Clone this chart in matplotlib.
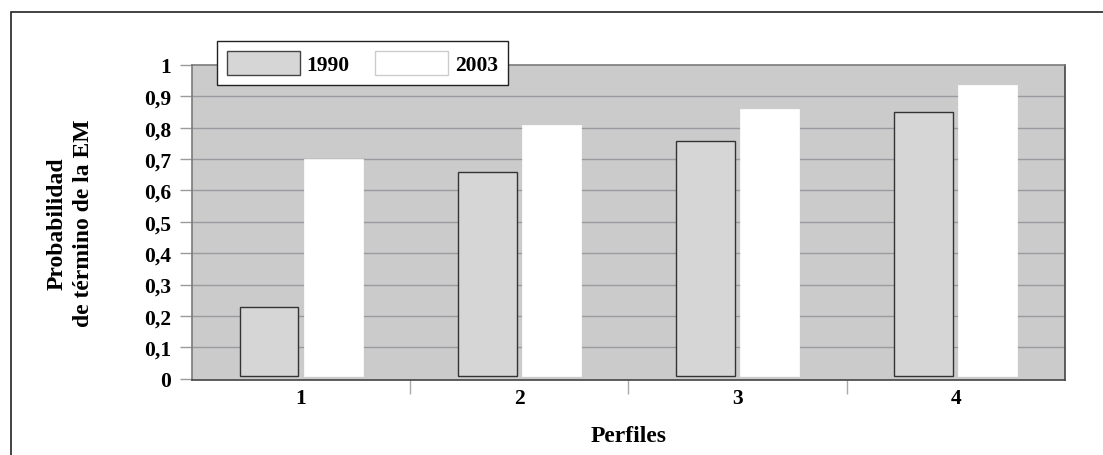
import matplotlib.pyplot as plt
import matplotlib.patches as mpatches
import numpy as np

perfiles = ['1', '2', '3', '4']
prob_1990 = [0.23, 0.66, 0.757, 0.849]
prob_2003 = [0.70, 0.81, 0.86, 0.937]
yticks = [0, 0.1, 0.2, 0.3, 0.4, 0.5, 0.6, 0.7, 0.8, 0.9, 1]
ytick_labels = ['0', '0,1', '0,2', '0,3', '0,4', '0,5', '0,6', '0,7', '0,8', '0,9', '1']

plt.rcParams['font.family'] = ['Liberation Serif', 'DejaVu Serif']
plt.rcParams['font.weight'] = 'bold'

fig = plt.figure(figsize=(11.03, 4.56), dpi=100)
ax = fig.add_axes([0.174, 0.1645, 0.7915, 0.691])

x = np.arange(len(perfiles))
w = 0.27
base = 0.01
ax.bar(x - w / 2 - 0.012, np.array(prob_1990) - base, w, bottom=base,
       color='#d6d6d6', edgecolor='#333333', linewidth=1.0, label='1990', zorder=3)
ax.bar(x + w / 2 + 0.012, np.array(prob_2003) - base, w, bottom=base,
       color='white', edgecolor='white', linewidth=0.5, label='2003', zorder=3)

ax.set_facecolor('#cbcbcb')
ax.set_xlim(-0.5, 3.5)
ax.set_ylim(-0.004, 1.0)
ax.set_yticks(yticks)
ax.set_yticklabels(ytick_labels)
ax.set_xticks(x)
ax.set_xticklabels(perfiles)
ax.set_xticks(np.arange(0.5, 3.5, 1), minor=True)

for v in yticks[1:-1]:
    ax.axhline(v, color='#9a9aa0', linewidth=1.0, zorder=1)

ax.tick_params(axis='y', length=9, color='#9a9aa0', width=1.0, labelsize=15.5, pad=6)
ax.tick_params(axis='x', which='major', length=0, labelsize=15.5, pad=6)
ax.tick_params(axis='x', which='minor', length=10, color='#aaaaaa', width=1.0)

for side in ['left', 'top']:
    ax.spines[side].set_color('#7a7a7a')
for side in ['right', 'bottom']:
    ax.spines[side].set_color('#444444')
for s in ax.spines.values():
    s.set_linewidth(1.2)

ax.set_xlabel('Perfiles', fontsize=17, fontweight='bold', labelpad=12)
ax.set_ylabel('Probabilidad\nde término de la EM', fontsize=17, fontweight='bold',
              labelpad=36, linespacing=1.3)

handles = [mpatches.Patch(facecolor='#d6d6d6', edgecolor='#444444', linewidth=1.0),
           mpatches.Patch(facecolor='white', edgecolor='#cccccc', linewidth=1.0)]
leg = fig.legend(handles, ['1990', '2003'], ncol=2, loc='upper left',
                 bbox_to_anchor=(217 / 1103, 1 - 42 / 456),
                 bbox_transform=fig.transFigure, fontsize=15.5,
                 handlelength=3.4, handleheight=1.35, handletextpad=0.3,
                 columnspacing=1.2, borderpad=0.45, borderaxespad=0,
                 fancybox=False, framealpha=1, edgecolor='#222222')
leg.get_frame().set_linewidth(1.0)
for t in leg.get_texts():
    t.set_fontweight('bold')

# outer frame around the figure
fig.patches.append(mpatches.Rectangle((11 / 1103, -0.05), 1.1, 1 - 13 / 456 + 0.05,
                                      transform=fig.transFigure, fill=False,
                                      edgecolor='#222222', linewidth=1.2))

fig.savefig('out.png', dpi=100)
